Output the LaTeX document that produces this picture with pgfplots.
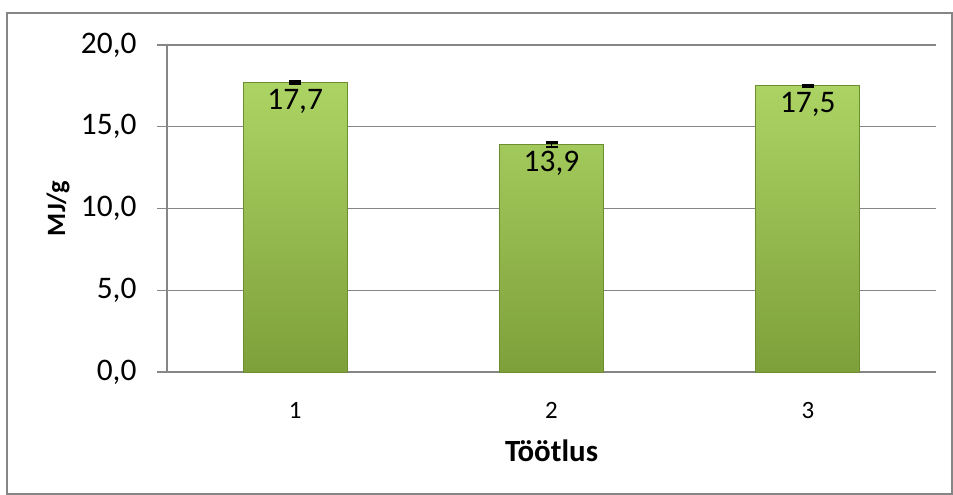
\documentclass[border=0pt]{standalone}
\usepackage{pgfplots}
\pgfplotsset{compat=1.18}
\usepackage{fontspec}
\setmainfont{Carlito}

\definecolor{gridgray}{RGB}{134,134,134}
\definecolor{bartop}{RGB}{172,212,100}
\definecolor{barmid}{RGB}{154,197,82}
\definecolor{barbot}{RGB}{126,160,58}
\definecolor{baredge}{RGB}{110,140,50}

\begin{document}
\begin{tikzpicture}[x=1bp,y=1bp]
  % chart frame
  \path (0,0) rectangle (953,495);
  \draw[gridgray, line width=1.2bp] (7,1) rectangle (952,482);

  \begin{axis}[
    at={(167bp,123bp)}, anchor=south west,
    scale only axis,
    width=769bp, height=327bp,
    xmin=0.5, xmax=3.5,
    ymin=0, ymax=20,
    xtick={1,2,3},
    xticklabels={1,2,3},
    ytick={0,5,10,15,20},
    axis x line*=bottom,
    axis y line*=left,
    axis line style={gridgray, line width=1.2bp, -},
    ymajorgrids,
    grid style={gridgray, line width=1.2bp},
    major tick length=10bp,
    tick align=outside,
    tick style={gridgray, line width=1.2bp},
    x tick style={draw=none},
    /pgf/number format/.cd, fixed, fixed zerofill, precision=1, use comma,
    /pgf/number format/assume math mode=true,
    /pgfplots/.cd,
    yticklabel style={font=\fontsize{31.5}{36}\selectfont, anchor=east, xshift=-17bp},
    xticklabel style={font=\fontsize{25}{30}\selectfont, anchor=north, yshift=-17bp},
    xlabel={\textbf{Töötlus}},
    ylabel={\textbf{MJ/g}},
    every axis x label/.style={at={(axis description cs:0.5,-0.274)}, anchor=base,
      font=\fontsize{31}{37}\selectfont},
    every axis y label/.style={at={(axis description cs:-0.1326,0.5)}, rotate=90, anchor=base,
      font=\fontsize{26.5}{31}\selectfont},
    clip=false,
  ]
    \addplot[
      ybar, bar width=0.406,
      top color=bartop, middle color=barmid, bottom color=barbot,
      draw=baredge, line width=0.8bp,
      nodes near coords,
      nodes near coords style={font=\fontsize{31.5}{36}\selectfont, anchor=north,
        inner sep=0pt, yshift=-6bp, text=black,
        /pgf/number format/.cd, fixed, fixed zerofill, precision=1, use comma},
      error bars/.cd, y dir=both, y explicit,
      error bar style={black, line width=1.5bp},
      error mark options={black, rotate=90, mark size=6bp, line width=2.5bp},
    ] table[x=x, y=y, y error=e] {
      x y    e
      1 17.7 0.08
      2 13.9 0.15
      3 17.5 0.05
    };
  \end{axis}
\end{tikzpicture}
\end{document}
